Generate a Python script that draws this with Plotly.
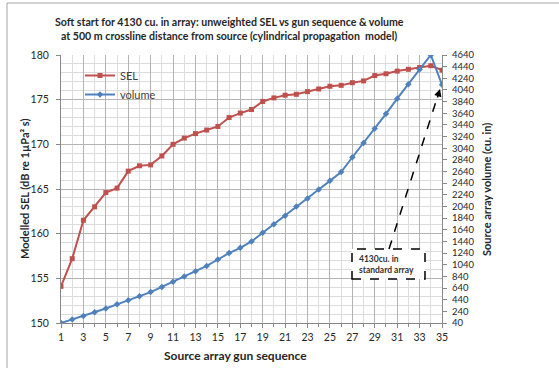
import plotly.graph_objects as go

# Gun sequence (firing order within the soft start)
gun_sequence = list(range(1, 36))

# Modelled unweighted SEL at 500 m crossline (dB re 1 uPa^2 s)
sel_db = [154.1, 157.2, 161.5, 163.0, 164.6, 165.1, 167.0, 167.6, 167.7, 168.7,
          170.0, 170.7, 171.2, 171.6, 172.0, 173.0, 173.5, 173.9, 174.8, 175.2,
          175.5, 175.6, 175.9, 176.2, 176.5, 176.6, 176.9, 177.1, 177.7, 177.9,
          178.2, 178.4, 178.6, 178.8, 178.3]

# Cumulative source array volume (cu. in)
volume_cuin = [40, 100, 160, 225, 290, 360, 430, 500, 570, 660,
               750, 840, 930, 1020, 1130, 1240, 1330, 1440, 1590, 1735,
               1880, 2040, 2175, 2330, 2480, 2630, 2885, 3130, 3380, 3630,
               3890, 4140, 4390, 4640, 4130]

x_ticks = list(range(1, 36, 2))
sel_ticks = [150, 155, 160, 165, 170, 175, 180]
vol_ticks = list(range(40, 4641, 200))

FONT = "Lato"
TXT = "#262626"
MAJOR = "#b4b4b4"
MINOR = "#dcdcdc"

W, H = 559, 368
L, R, T, B = 61, 117, 55, 45
pw, ph = W - L - R, H - T - B


def px_x(p):
    return (p - L) / pw


def px_y(p):
    return (H - B - p) / ph


fig = go.Figure()

fig.add_trace(go.Scatter(
    x=gun_sequence, y=sel_db, name="SEL", mode="lines+markers",
    line=dict(color="#c0504d", width=2),
    marker=dict(symbol="square", size=5, color="#c0504d"),
    yaxis="y"))

fig.add_trace(go.Scatter(
    x=gun_sequence, y=volume_cuin, name="volume", mode="lines+markers",
    line=dict(color="#4f81bd", width=2),
    marker=dict(symbol="diamond", size=5, color="#4f81bd"),
    yaxis="y2"))

fig.update_layout(
    width=W, height=H, autosize=False,
    margin=dict(l=L, r=R, t=T, b=B),
    paper_bgcolor="white", plot_bgcolor="white",
    font=dict(family=FONT, color=TXT),
    showlegend=True,
    legend=dict(x=px_x(80), y=px_y(61), xanchor="left", yanchor="top",
                bgcolor="rgba(0,0,0,0)", font=dict(size=11, color="#404040"),
                tracegroupgap=0, itemwidth=30),
    xaxis=dict(range=[1, 35], tickvals=x_ticks, ticks="outside", ticklen=4,
               tickcolor="#888", showline=True, linecolor="#888", linewidth=1,
               showgrid=True, gridcolor=MAJOR, gridwidth=1,
               minor=dict(dtick=1, tick0=0, showgrid=True, gridcolor=MINOR,
                          ticks="outside", ticklen=3, tickcolor="#888"),
               tickfont=dict(size=10.5, color=TXT), zeroline=False),
    yaxis=dict(range=[150, 180], tickvals=sel_ticks, ticks="outside", ticklen=4,
               tickcolor="#888", showline=True, linecolor="#888", linewidth=1,
               showgrid=True, gridcolor=MAJOR, gridwidth=1,
               minor=dict(dtick=1, showgrid=True, gridcolor=MINOR),
               ticklabelstandoff=5,
               tickfont=dict(size=10.5, color=TXT), zeroline=False),
    yaxis2=dict(range=[40, 4640], tickvals=vol_ticks, overlaying="y", side="right",
                ticks="outside", ticklen=4, tickcolor="#888", showline=True,
                linecolor="#888", linewidth=1, showgrid=False,
                ticklabelstandoff=3,
                tickfont=dict(size=9.5, color=TXT), zeroline=False),
)

# Bold tick labels
fig.update_xaxes(tickprefix="<b>", ticksuffix="</b>")
fig.update_yaxes(tickprefix="<b>", ticksuffix="</b>")

annotations = [
    dict(text="<b>Soft start for 4130 cu. in array: unweighted SEL vs gun sequence & volume</b>",
         x=px_x(229), y=px_y(22), xref="paper", yref="paper", showarrow=False,
         font=dict(size=10.6, color=TXT), xanchor="center", yanchor="middle"),
    dict(text="<b>at 500 m crossline distance from source (cylindrical propagation  model)</b>",
         x=px_x(229), y=px_y(36), xref="paper", yref="paper", showarrow=False,
         font=dict(size=10.6, color=TXT), xanchor="center", yanchor="middle"),
    dict(text="<b>Modelled SEL (dB re 1µPa² s)</b>", textangle=-90,
         x=px_x(24), y=px_y(189), xref="paper", yref="paper", showarrow=False,
         font=dict(size=11, color=TXT), xanchor="center", yanchor="middle"),
    dict(text="<b>Source array volume (cu. in)</b>", textangle=-90,
         x=px_x(486), y=px_y(190), xref="paper", yref="paper", showarrow=False,
         font=dict(size=11, color=TXT), xanchor="center", yanchor="middle"),
    dict(text="<b>Source array gun sequence</b>",
         x=px_x(235), y=px_y(355), xref="paper", yref="paper", showarrow=False,
         font=dict(size=12, color=TXT), xanchor="center", yanchor="middle"),
    # callout text inside the dashed box
    dict(text="<b>4130cu. in</b><br><b>standard array</b>", align="left",
         x=px_x(357), y=px_y(264), xref="paper", yref="paper", showarrow=False,
         font=dict(size=8.5, color="#333"), xanchor="left", yanchor="middle"),
    # arrow head pointing at the final (standard array) volume
    dict(text="", x=px_x(440), y=px_y(89), xref="paper", yref="paper",
         showarrow=True, arrowhead=2, arrowsize=1, arrowwidth=1.5,
         arrowcolor="#000", ax=-3, ay=10, axref="pixel", ayref="pixel"),
]
fig.update_layout(annotations=annotations)

shapes = [
    # outer frame
    dict(type="rect", xref="paper", yref="paper",
         x0=px_x(7), x1=px_x(620), y0=px_y(420), y1=px_y(3),
         line=dict(color="#a6a6a6", width=1), fillcolor="rgba(0,0,0,0)", layer="below"),
    # dashed callout box
    dict(type="rect", xref="paper", yref="paper",
         x0=px_x(352), x1=px_x(425), y0=px_y(279), y1=px_y(249),
         line=dict(color="#000", width=1.5, dash="dash"), fillcolor="white"),
    # dashed leader line
    dict(type="line", xref="paper", yref="paper",
         x0=px_x(389), y0=px_y(249), x1=px_x(439), y1=px_y(92),
         line=dict(color="#000", width=1.5, dash="dash")),
]
fig.update_layout(shapes=shapes)

fig.write_html("out.html")
